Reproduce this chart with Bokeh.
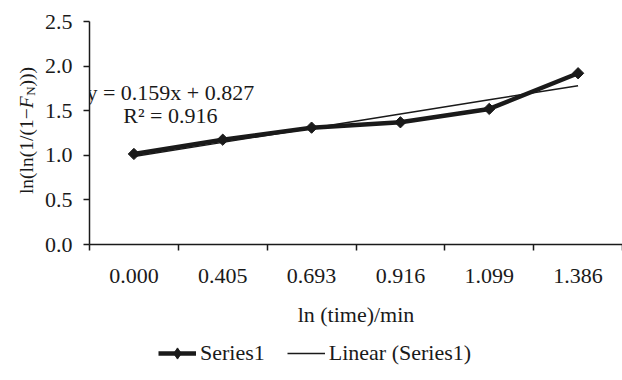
import math
from bokeh.plotting import figure
from bokeh.layouts import row, column
from bokeh.models import Range1d, FixedTicker, Label, Legend, LegendItem, NumeralTickFormatter
from bokeh.embed import file_html
from bokeh.resources import INLINE

# ---- data ----
x_labels = ["0.000", "0.405", "0.693", "0.916", "1.099", "1.386"]
series1 = [1.015, 1.175, 1.31, 1.37, 1.52, 1.92]
trend_slope = 0.159
trend_intercept = 0.827
eq_text = "y = 0.159x + 0.827"
r2_text = "R² = 0.916"
y_ticks = [0.0, 0.5, 1.0, 1.5, 2.0, 2.5]
x_title = "ln (time)/min"
legend_labels = ["Series1", "Linear (Series1)"]

FONT = "Liberation Serif"
FS = "22px"
INK = "#1a1a1a"

LABEL_W = 40
MAIN_H = 335
LEG_H = 380 - MAIN_H
TOP = 21
FRAME_BOTTOM = 244
idx = list(range(1, len(x_labels) + 1))
trend = [trend_slope * i + trend_intercept for i in idx]

SERIES_STYLE = dict(line_color=INK, line_width=4.5)
MARK_STYLE = dict(marker="square", angle=math.pi / 4, size=8, fill_color=INK, line_color=INK)
TREND_STYLE = dict(line_color=INK, line_width=1.5)

p = figure(width=622 - LABEL_W, height=MAIN_H, output_backend="svg", toolbar_location=None,
           x_range=Range1d(0.5, len(x_labels) + 0.5), y_range=Range1d(0, 2.5),
           min_border_left=89 - LABEL_W, min_border_right=0, min_border_top=TOP,
           min_border_bottom=MAIN_H - FRAME_BOTTOM)
p.outline_line_color = None
p.xgrid.visible = False
p.ygrid.visible = False
p.background_fill_color = "white"
p.border_fill_color = "white"

# x axis: labels at category centres, tick marks between categories
xa = p.xaxis[0]
xa.ticker = FixedTicker(ticks=idx, minor_ticks=[i + 0.5 for i in range(0, len(x_labels) + 1)])
xa.major_label_overrides = {i: lab for i, lab in zip(idx, x_labels)}
xa.major_tick_line_color = None
xa.major_tick_out = 0
xa.major_tick_in = 0
xa.minor_tick_out = 6
xa.minor_tick_in = 0
xa.minor_tick_line_color = INK
xa.minor_tick_line_width = 1.5
xa.axis_line_color = INK
xa.axis_line_width = 1.5
xa.major_label_standoff = 18
xa.major_label_text_font = FONT
xa.major_label_text_font_size = FS
xa.major_label_text_color = INK
xa.axis_label = x_title
xa.axis_label_text_font = FONT
xa.axis_label_text_font_size = FS
xa.axis_label_text_font_style = "normal"
xa.axis_label_text_color = INK
xa.axis_label_standoff = 16

ya = p.yaxis[0]
ya.ticker = FixedTicker(ticks=y_ticks, minor_ticks=[])
ya.formatter = NumeralTickFormatter(format="0.0")
ya.major_tick_out = 6
ya.major_tick_in = 0
ya.major_tick_line_color = INK
ya.major_tick_line_width = 1.5
ya.minor_tick_line_color = None
ya.axis_line_color = INK
ya.axis_line_width = 1.5
ya.major_label_standoff = 11
ya.major_label_text_font = FONT
ya.major_label_text_font_size = FS
ya.major_label_text_color = INK

# series
p.line(idx, series1, **SERIES_STYLE)
p.scatter(idx, series1, **MARK_STYLE)
p.line(idx, trend, **TREND_STYLE)

# trendline equation
for txt, ty in [(eq_text, 1.70), (r2_text, 1.445)]:
    p.add_layout(Label(x=1.41, y=ty, text=txt, text_align="center", text_baseline="middle",
                       text_font=FONT, text_font_size=FS, text_color=INK))

# ---- y-axis title: narrow figure (its frame aligns with the main frame) ----
q = figure(width=LABEL_W, height=MAIN_H, output_backend="svg", toolbar_location=None,
           x_range=Range1d(0, LABEL_W), y_range=Range1d(0, FRAME_BOTTOM - TOP),
           x_axis_location=None, y_axis_location=None,
           min_border_left=0, min_border_right=0, min_border_top=TOP,
           min_border_bottom=MAIN_H - FRAME_BOTTOM)
q.grid.visible = False
q.outline_line_color = None
q.background_fill_color = "white"
q.border_fill_color = "white"

fs_main = 19.5
fs_sub = 13
pieces = [
    ("ln(ln(1/(1−", fs_main, "normal", 4.397 * fs_main, 0),
    ("F", fs_main, "italic", 0.64 * fs_main, 0),
    ("N", fs_sub, "normal", 0.722 * fs_sub, 4),
    (")))", fs_main, "normal", 0.999 * fs_main, 0),
]
total = sum(pc[3] for pc in pieces)
cur_sy = 130 + total / 2.0   # screen y where the title starts (bottom end)
base_x = 26
for txt, fs, style, w, drop in pieces:
    q.add_layout(Label(x=base_x + drop, y=FRAME_BOTTOM - cur_sy, text=txt, angle=math.pi / 2,
                       text_align="left", text_baseline="alphabetic",
                       text_font=FONT, text_font_size=f"{fs}px", text_font_style=style,
                       text_color=INK))
    cur_sy -= w

# ---- legend strip: proxies styled like the series (no drawable data) ----
lf = figure(width=622, height=LEG_H, output_backend="svg", toolbar_location=None,
            x_range=Range1d(0, 1), y_range=Range1d(0, 1),
            x_axis_location=None, y_axis_location=None, min_border=0)
lf.grid.visible = False
lf.outline_line_color = None
lf.background_fill_color = "white"
lf.border_fill_color = "white"
nan = float("nan")
g_line = lf.line([nan], [nan], **SERIES_STYLE)
g_mark = lf.scatter([nan], [nan], marker="diamond", fill_color=INK, line_color=INK)
g_trend = lf.line([nan], [nan], **TREND_STYLE)

legend = Legend(items=[LegendItem(label=legend_labels[0], renderers=[g_line, g_mark]),
                       LegendItem(label=legend_labels[1], renderers=[g_trend])],
                orientation="horizontal", location=(158, 13))
legend.padding = 0
legend.margin = 0
legend.spacing = 22
legend.glyph_width = 38
legend.glyph_height = 28
legend.label_standoff = 4
legend.label_text_font = FONT
legend.label_text_font_size = FS
legend.label_text_color = INK
legend.border_line_color = None
legend.background_fill_alpha = 0
lf.add_layout(legend, "center")

layout = column(row(q, p, spacing=0), lf, spacing=0)
open("out.html", "w").write(file_html(layout, INLINE))
